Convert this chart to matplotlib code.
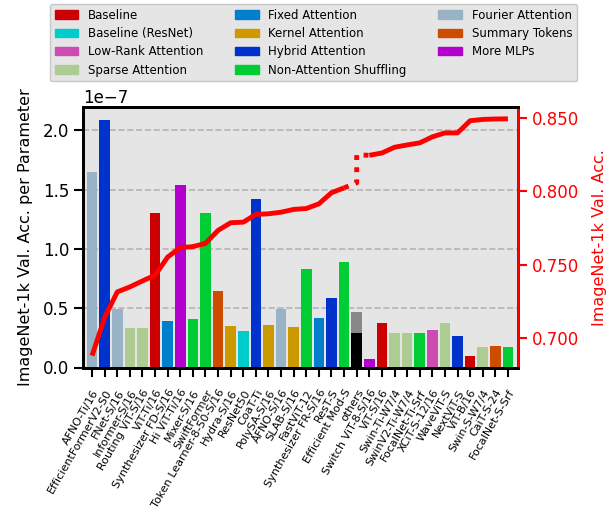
import numpy as np
import matplotlib
matplotlib.use("Agg")
import matplotlib.pyplot as plt
from matplotlib.patches import Patch
from matplotlib.ticker import FormatStrFormatter
from matplotlib.transforms import ScaledTranslation

models = ["AFNO-Ti/16", "EfficientFormerV2-S0", "FNet-S/16", "Informer-S/16", "Routing ViT-S/16",
          "ViT-Ti/16", "Synthesizer FD-S/16", "Hi ViT-Ti/16", "Mixer-S/16", "SwiftFormer",
          "Token Learner-8-50-S/16", "Hydra-S/16", "ResNet50", "CoaT-Ti", "PolySA-S/16",
          "AFNO-S/16", "SLAB-S/16", "FastViT-12", "Synthesizer FR-S/16", "ResT-S",
          "Efficient Mod-S", "others", "Switch ViT-8-S/16", "ViT-S/16", "Swin-Ti-W7/4",
          "SwinV2-Ti-W7/4", "FocalNet-Ti-Srf", "XCiT-S-12/16", "WaveViT-S", "NextViT-S",
          "ViT-B/16", "Swin-S-W7/4", "CaiT-S-24", "FocalNet-S-Srf"]

categories = ["Fourier", "Hybrid", "Fourier", "Sparse", "Sparse",
              "Baseline", "Fixed", "MLPs", "Shuffle", "Shuffle",
              "Summary", "Kernel", "ResNet", "Hybrid", "Kernel",
              "Fourier", "Kernel", "Shuffle", "Fixed", "Hybrid",
              "Shuffle", "others", "MLPs", "Baseline", "Sparse",
              "Sparse", "Shuffle", "LowRank", "Sparse", "Hybrid",
              "Baseline", "Sparse", "Summary", "Shuffle"]

# accuracy per parameter (x 1e-7)
acc_per_param = [1.65, 2.09, 0.49, 0.335, 0.335,
                 1.30, 0.393, 1.54, 0.41, 1.305,
                 0.646, 0.35, 0.308, 1.423, 0.358,
                 0.497, 0.342, 0.832, 0.418, 0.587,
                 0.89, 0.291, 0.072, 0.375, 0.291,
                 0.291, 0.291, 0.316, 0.375, 0.265,
                 0.097, 0.173, 0.181, 0.173]
others_extra = 0.178  # grey part stacked on top of "others"

accuracy = [0.6878, 0.7139, 0.7313, 0.7347, 0.7388,
            0.7427, 0.7551, 0.7615, 0.7622, 0.7644,
            0.7733, 0.7785, 0.7789, 0.7842, 0.7846,
            0.7857, 0.7876, 0.7882, 0.7914, 0.7990,
            0.8023, np.nan, 0.8245, 0.8261, 0.8300,
            0.8316, 0.8330, 0.8371, 0.8398, 0.8398,
            0.8481, 0.8490, 0.8493, 0.8494]
others_acc_range = [0.8057, 0.8249]

cat_colors = {
    "Baseline": "#cc0000", "ResNet": "#00cccc", "LowRank": "#cc4cb3", "Sparse": "#adcc92",
    "Fixed": "#0080cc", "Kernel": "#cc9900", "Hybrid": "#0033cc", "Shuffle": "#00cc33",
    "Fourier": "#99b3c6", "Summary": "#cc4c00", "MLPs": "#b300cc", "others": "#000000",
}
legend_keys = ["Baseline", "ResNet", "LowRank", "Sparse", "Fixed", "Kernel", "Hybrid",
               "Shuffle", "Fourier", "Summary", "MLPs"]
legend_labels = ["Baseline", "Baseline (ResNet)", "Low-Rank Attention", "Sparse Attention",
                 "Fixed Attention", "Kernel Attention", "Hybrid Attention",
                 "Non-Attention Shuffling", "Fourier Attention", "Summary Tokens", "More MLPs"]

fig = plt.figure(figsize=(6.14, 5.16), dpi=100)
ax = fig.add_axes([83/614, 1-367.5/516, (518-83)/614, (367.5-107)/516])
ax.set_facecolor("#e5e5e5")

x = np.arange(len(models))
vals = np.array(acc_per_param) * 1e-7
cols = [cat_colors[c] for c in categories]
ax.bar(x, vals, width=0.85, color=cols, zorder=2)
oi = models.index("others")
ax.bar([oi], [others_extra * 1e-7], bottom=[vals[oi]], width=0.85, color="#888888", zorder=2)

ax.set_axisbelow(True)
ax.yaxis.grid(True, linestyle="--", color="#b4b4b4", linewidth=1.2)
ax.set_ylim(0, 2.197e-7)
ax.set_xlim(-0.72, len(models) - 0.2)
ax.set_xticks(x)
ax.set_xticklabels(models, rotation=60, ha="right", rotation_mode="anchor", fontsize=8)
shift = ScaledTranslation(4/100, 0, fig.dpi_scale_trans)
for lbl in ax.get_xticklabels():
    lbl.set_transform(lbl.get_transform() + shift)
ax.tick_params(axis="y", labelsize=12, length=6.5, width=1.5)
ax.tick_params(axis="x", length=6.5, width=1.5, pad=8)
ax.yaxis.get_offset_text().set_fontsize(12)
ax.set_ylabel("ImageNet-1k Val. Acc. per Parameter", fontsize=11.5, labelpad=7)
for s in ax.spines.values():
    s.set_linewidth(2)

ax2 = ax.twinx()
ax2.plot(x, accuracy, color="red", lw=3.5, solid_capstyle="butt")
ax2.plot([oi - 1, oi, oi, oi + 1],
         [accuracy[oi - 1], others_acc_range[0], others_acc_range[1], accuracy[oi + 1]],
         color="red", lw=3.5, linestyle=(0, (1, 1.5)))
ax2.yaxis.set_major_formatter(FormatStrFormatter("%.3f"))
ax2.set_ylabel("ImageNet-1k Val. Acc.", color="red", fontsize=11.5, labelpad=9)
ax2.tick_params(axis="y", colors="red", labelsize=12, length=6.5, width=1.5)
for s in ax2.spines.values():
    s.set_linewidth(2)
ax2.spines["right"].set_color("red")

handles = [Patch(color=cat_colors[k]) for k in legend_keys]
fig.legend(handles, legend_labels, ncol=3, loc="upper center",
           bbox_to_anchor=(313.5/614, 1 + 2/516), fontsize=8.5,
           facecolor="#e5e5e5", edgecolor="#c8c8c8", framealpha=1,
           labelspacing=0.45, columnspacing=2.7)

fig.savefig("out.png", dpi=100)
